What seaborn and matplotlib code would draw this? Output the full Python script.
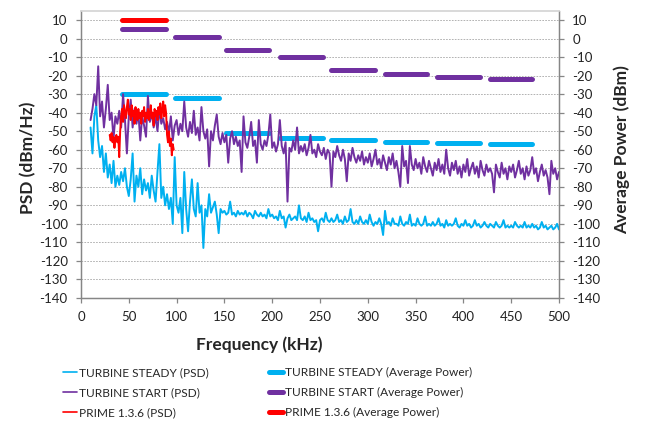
import numpy as np
import pandas as pd
import seaborn as sns
import matplotlib.pyplot as plt
from matplotlib.lines import Line2D

# PSD traces, every 2 kHz (10 .. 500 kHz)
freq_khz = np.arange(10, 501, 2)

steady_psd = [
    -48, -62, -42, -36, -55, -64, -58, -72, -62, -75,
    -68, -78, -66, -80, -74, -79, -72, -77, -70, -80,
    -85, -76, -62, -88, -74, -80, -70, -84, -76, -82,
    -78, -86, -74, -82, -88, -72, -57, -86, -80, -90,
    -84, -92, -86, -100, -64, -90, -94, -86, -105, -72,
    -92, -104, -88, -76, -92, -96, -78, -94, -90, -113,
    -92, -96, -84, -94, -91, -88, -95, -105, -92, -94,
    -93, -95, -94, -88, -95, -94, -96, -93, -95, -94,
    -95, -93, -96, -94, -95, -97, -93, -95, -96, -94,
    -96, -95, -97, -92, -96, -95, -97, -96, -98, -93,
    -97, -96, -102, -97, -95, -98, -97, -96, -98, -90,
    -97, -98, -96, -99, -94, -98, -97, -99, -98, -104,
    -98, -97, -99, -94, -98, -99, -97, -99, -98, -95,
    -99, -98, -100, -96, -99, -98, -92, -99, -100, -98,
    -100, -96, -99, -100, -98, -100, -95, -99, -101, -99,
    -100, -97, -100, -106, -93, -100, -99, -101, -97, -100,
    -100, -101, -96, -100, -101, -99, -100, -95, -101, -100,
    -101, -97, -100, -101, -100, -96, -101, -100, -101, -99,
    -101, -100, -97, -101, -100, -102, -98, -101, -100, -101,
    -100, -97, -101, -102, -100, -101, -98, -101, -100, -102,
    -101, -98, -101, -100, -102, -101, -99, -101, -102, -100,
    -101, -102, -99, -101, -102, -101, -98, -102, -101, -102,
    -101, -102, -99, -101, -102, -101, -102, -99, -102, -101,
    -102, -100, -102, -101, -103, -102, -99, -102, -101, -103,
    -102, -101, -103, -102, -100, -103,
]

start_psd = [
    -44, -38, -30, -36, -15, -42, -34, -48, -38, -25,
    -44, -40, -54, -42, -46, -39, -48, -30, -44, -62,
    -42, -33, -48, -38, -46, -40, -55, -42, -47, -53,
    -31, -45, -40, -48, -42, -50, -38, -46, -43, -49,
    -45, -51, -42, -55, -47, -44, -52, -46, -50, -34,
    -48, -53, -45, -51, -39, -52, -48, -55, -37, -50,
    -54, -49, -69, -50, -55, -47, -41, -53, -57, -51,
    -56, -52, -67, -54, -50, -57, -53, -58, -55, -72,
    -42, -56, -59, -53, -45, -58, -55, -67, -44, -57,
    -60, -55, -58, -52, -41, -59, -56, -61, -57, -44,
    -58, -62, -56, -88, -59, -61, -55, -60, -48, -62,
    -58, -61, -57, -63, -59, -52, -62, -60, -64, -57,
    -61, -63, -59, -65, -60, -62, -80, -61, -64, -58,
    -63, -66, -60, -65, -77, -62, -66, -59, -64, -67,
    -63, -66, -61, -68, -64, -67, -62, -69, -65, -60,
    -68, -65, -70, -63, -67, -71, -64, -68, -62, -70,
    -66, -72, -80, -58, -69, -66, -78, -58, -68, -71,
    -65, -70, -67, -73, -64, -69, -72, -66, -70, -74,
    -67, -71, -65, -72, -68, -73, -60, -70, -74, -67,
    -71, -66, -73, -69, -75, -68, -72, -65, -74, -70,
    -67, -73, -69, -75, -66, -71, -74, -68, -72, -70,
    -73, -83, -68, -72, -75, -67, -73, -70, -76, -69,
    -72, -68, -75, -71, -66, -73, -70, -76, -69, -74,
    -71, -64, -73, -70, -77, -72, -68, -74, -71, -75,
    -84, -66, -73, -70, -76, -72,
]

# PRIME 1.3.6 PSD, every 1 kHz (30 .. 97 kHz)
prime_khz = np.arange(30, 98, 1)
prime_psd = [
    -52, -55, -51, -56, -53, -59, -54, -52, -56, -53,
    -64, -50, -42, -38, -45, -36, -40, -43, -37, -33,
    -41, -38, -44, -36, -42, -39, -46, -37, -41, -44,
    -38, -43, -40, -46, -39, -42, -37, -45, -40, -43,
    -38, -44, -41, -36, -43, -40, -47, -38, -42, -39,
    -44, -37, -41, -35, -43, -39, -34, -42, -36, -40,
    -52, -56, -50, -58, -54, -63, -57, -60,
]

# average power per band (secondary axis)
avg_start_khz = [43, 98, 152, 208, 262, 318, 372, 428]
avg_stop_khz = [89, 144, 197, 253, 308, 362, 417, 472]
steady_avg = [-30, -32, -51, -53.5, -55, -56, -56.5, -57]
start_avg = [5, 1, -6, -10, -17, -19, -21, -22]
prime_avg = [10]

BLUE = '#00B0F0'
PURPLE = '#7030A0'
RED = '#FF0000'
AXIS = '#868686'

sns.set_theme(style='white')
plt.rcParams['font.family'] = ['Lato', 'DejaVu Sans']
plt.rcParams['axes.unicode_minus'] = False

psd_df = pd.concat([
    pd.DataFrame({'freq': freq_khz, 'psd': steady_psd, 'series': 'TURBINE STEADY'}),
    pd.DataFrame({'freq': freq_khz, 'psd': start_psd, 'series': 'TURBINE START'}),
    pd.DataFrame({'freq': prime_khz, 'psd': prime_psd, 'series': 'PRIME 1.3.6'}),
], ignore_index=True)

rows = []
for name, vals in [('TURBINE STEADY', steady_avg), ('TURBINE START', start_avg),
                   ('PRIME 1.3.6', prime_avg)]:
    for i, v in enumerate(vals):
        rows.append({'freq': avg_start_khz[i], 'power': v, 'series': name, 'seg': i})
        rows.append({'freq': avg_stop_khz[i], 'power': v, 'series': name, 'seg': i})
avg_df = pd.DataFrame(rows)

palette = {'TURBINE STEADY': BLUE, 'TURBINE START': PURPLE, 'PRIME 1.3.6': RED}
order = ['TURBINE STEADY', 'TURBINE START', 'PRIME 1.3.6']

fig = plt.figure(figsize=(6.47, 4.25), dpi=100)
ax = fig.add_axes([81 / 647, 1 - 298 / 425, 478 / 647, (298 - 10.7) / 425])
ax2 = ax.twinx()

yticks = np.arange(-140, 11, 10)

# gridlines live on the back axes so nothing is drawn over the bars
for y in yticks[1:]:
    ax2.axhline(y, color='#A6A6A6', lw=0.6, ls=(0, (2, 1.5)), zorder=0)

sns.lineplot(data=avg_df, x='freq', y='power', hue='series', hue_order=order,
             palette=palette, units='seg', estimator=None, sort=False,
             lw=3.6, solid_capstyle='round', legend=False, ax=ax2)
sns.lineplot(data=psd_df, x='freq', y='psd', hue='series', hue_order=order,
             palette=palette, estimator=None, sort=False, lw=1.4,
             legend=False, ax=ax)

# PSD traces sit over the average power bars
ax.set_zorder(ax2.get_zorder() + 1)
ax.patch.set_visible(False)

for a in (ax, ax2):
    a.set_ylim(-140, 15)
    a.set_xlim(0, 500)
    a.set_yticks(yticks)
    a.set_xlabel('')
    a.set_ylabel('')
    for s in a.spines.values():
        s.set_color(AXIS)
        s.set_linewidth(0.9)
    a.spines['top'].set_color('#D9D9D9')
    a.spines['top'].set_linewidth(1.2)

ax.set_xticks(np.arange(0, 501, 50))
ax.tick_params(axis='both', direction='out', length=3.6, width=0.9, color=AXIS,
               labelsize=9.5, pad=6, labelcolor='#222222')
ax.tick_params(axis='y', left=True)
ax.tick_params(axis='x', bottom=True)
ax2.tick_params(axis='y', direction='out', length=3.6, width=0.9, color=AXIS,
                labelsize=9.5, pad=6, labelcolor='#222222', right=True)

fig.text(259 / 647, 1 - 345 / 425, 'Frequency (kHz)', ha='center', va='center',
         fontsize=12.5, fontweight='bold')
fig.text(28 / 647, 1 - 158 / 425, 'PSD (dBm/Hz)', ha='center', va='center',
         rotation=90, fontsize=12.5, fontweight='bold')
fig.text(622 / 647, 1 - 150 / 425, 'Average Power (dBm)', ha='center', va='center',
         rotation=90, fontsize=12.5, fontweight='bold')

psd_handles = [Line2D([], [], color=palette[n], lw=1.2) for n in order]
avg_handles = [Line2D([], [], color=palette[n], lw=3.6, solid_capstyle='round')
               for n in order]
leg_kw = dict(frameon=False, loc='upper left', fontsize=8.6, handlelength=1.2,
              handletextpad=0.15, labelspacing=0.75, borderpad=0, borderaxespad=0)
fig.legend(psd_handles, [n + ' (PSD)' for n in order],
           bbox_to_anchor=(63 / 647, 1 - 367 / 425), **leg_kw)
fig.legend(avg_handles, [n + ' (Average Power)' for n in order],
           bbox_to_anchor=(269 / 647, 1 - 367 / 425), **leg_kw)

fig.savefig('out.png', dpi=100)
